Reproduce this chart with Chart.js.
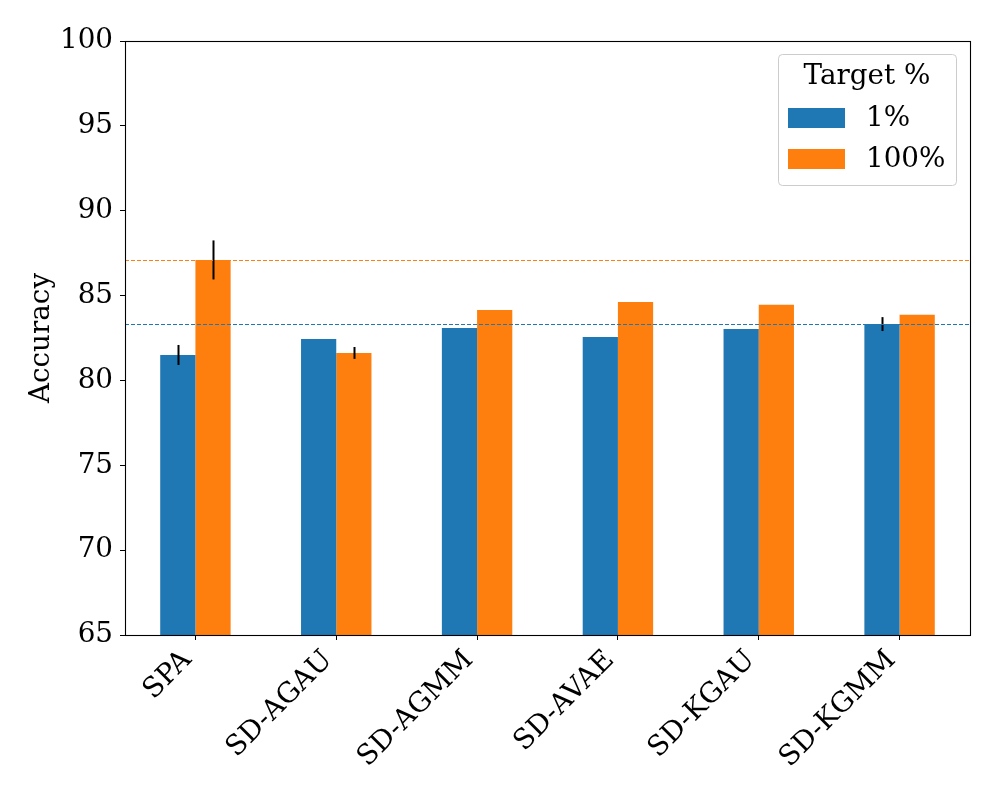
<!DOCTYPE html>
<html><head><meta charset="utf-8">
<script src="https://cdn.jsdelivr.net/npm/chart.js@4"></script>
<style>html,body{margin:0;padding:0;background:#fff}#wrap{width:1000px;height:800px}</style>
</head><body><div id="wrap"><canvas id="c" width="1000" height="800"></canvas></div>
<script>
const categories = ['SPA', 'SD-AGAU', 'SD-AGMM', 'SD-AVAE', 'SD-KGAU', 'SD-KGMM'];
const seriesNames = ['1%', '100%'];
const acc1 = [81.50, 82.44, 83.09, 82.56, 83.03, 83.32];
const acc100 = [87.10, 81.62, 84.15, 84.62, 84.46, 83.87];
const err1 = [0.59, null, null, null, null, 0.41];
const err100 = [1.15, 0.35, null, null, null, null];
const refLines = [83.32, 87.10];
const yMin = 65, yMax = 100, yStep = 5;
const legendTitle = 'Target %';
const colors = ['#1f77b4', '#ff7f0e'];
const FONT = 'DejaVu Serif';
const FS = 27.8;

Chart.defaults.font.family = FONT;
Chart.defaults.font.size = FS;
Chart.defaults.color = '#000';

const errs = [err1, err100];

const overlay = {
  id: 'overlay',
  afterDatasetsDraw(chart) {
    const ctx = chart.ctx, ys = chart.scales.y, a = chart.chartArea;
    ctx.save();
    ctx.strokeStyle = '#000';
    ctx.lineWidth = 2;
    chart.data.datasets.forEach((ds, i) => {
      const meta = chart.getDatasetMeta(i);
      meta.data.forEach((el, j) => {
        const e = errs[i][j];
        if (e == null) return;
        const v = ds.data[j];
        ctx.beginPath();
        ctx.moveTo(Math.round(el.x) + 0.5, ys.getPixelForValue(v + e));
        ctx.lineTo(Math.round(el.x) + 0.5, ys.getPixelForValue(v - e));
        ctx.stroke();
      });
    });
    ctx.lineWidth = 1.1;
    ctx.setLineDash([4, 2]);
    refLines.forEach((v, i) => {
      const y = Math.round(ys.getPixelForValue(v)) + 0.5;
      ctx.strokeStyle = colors[i];
      ctx.beginPath();
      ctx.moveTo(a.left, y);
      ctx.lineTo(a.right, y);
      ctx.stroke();
    });
    ctx.setLineDash([]);
    ctx.strokeStyle = '#000';
    ctx.lineWidth = 1.1;
    ctx.strokeRect(Math.round(a.left) + 0.5, Math.round(a.top) + 0.5, Math.round(a.right - a.left), Math.round(a.bottom - a.top));
    const lx = a.right - 192, ly = a.top + 13, lw = 178, lh = 131;
    ctx.fillStyle = 'rgba(255,255,255,0.8)';
    ctx.strokeStyle = '#cccccc';
    ctx.lineWidth = 1;
    ctx.beginPath();
    ctx.roundRect(lx + 0.5, ly + 0.5, lw, lh, 4);
    ctx.fill();
    ctx.stroke();
    ctx.fillStyle = '#000';
    ctx.font = FS + 'px "' + FONT + '"';
    ctx.textAlign = 'center';
    ctx.textBaseline = 'middle';
    ctx.fillText(legendTitle, lx + lw / 2, ly + 23);
    ctx.textAlign = 'left';
    seriesNames.forEach((n, i) => {
      const py = ly + 54 + i * 41;
      ctx.fillStyle = colors[i];
      ctx.fillRect(lx + 10, py, 57, 20);
      ctx.fillStyle = '#000';
      ctx.fillText(n, lx + 88, py + 11);
    });
    ctx.restore();
  }
};

new Chart(document.getElementById('c'), {
  type: 'bar',
  data: {
    labels: categories,
    datasets: [
      { label: seriesNames[0], data: acc1, backgroundColor: colors[0], borderWidth: 0, categoryPercentage: 0.5, barPercentage: 1.0 },
      { label: seriesNames[1], data: acc100, backgroundColor: colors[1], borderWidth: 0, categoryPercentage: 0.5, barPercentage: 1.0 }
    ]
  },
  options: {
    responsive: false,
    animation: false,
    devicePixelRatio: 1,
    layout: { padding: { top: 41, right: 30, left: 0, bottom: 0 } },
    plugins: { legend: { display: false }, tooltip: { enabled: false } },
    scales: {
      x: {
        offset: true,
        grid: { display: true, drawOnChartArea: false, drawTicks: true, tickLength: 5, color: '#000', offset: false },
        border: { display: true, color: '#000', width: 1 },
        ticks: { minRotation: 45, maxRotation: 45, padding: 4, labelOffset: -8, color: '#000', font: { size: FS } },
        afterFit(s) { s.height = 165; }
      },
      y: {
        min: yMin, max: yMax,
        grid: { display: true, drawOnChartArea: false, drawTicks: true, tickLength: 5, color: '#000' },
        border: { display: true, color: '#000', width: 1 },
        ticks: { stepSize: yStep, padding: 7, color: '#000', font: { size: FS } },
        title: { display: true, text: 'Accuracy', color: '#000', font: { size: FS }, padding: { top: 25, bottom: 0 } },
        afterFit(s) { s.width = 125; }
      }
    }
  },
  plugins: [overlay]
});
</script></body></html>
